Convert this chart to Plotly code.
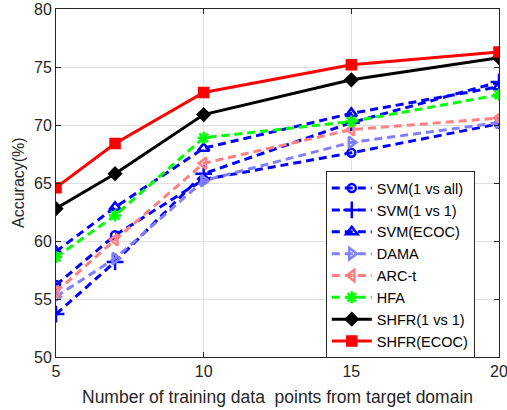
import plotly.graph_objects as go

x_vals = [5, 7, 10, 15, 20]
svm_1vsall = [56.2, 60.5, 65.3, 67.6, 70.1]
svm_1vs1 = [53.7, 58.2, 65.8, 70.2, 73.7]
svm_ecoc = [59.1, 62.9, 68.0, 71.0, 73.3]
dama = [55.2, 58.5, 65.2, 68.5, 70.2]
arct = [55.6, 60.1, 66.7, 69.6, 70.6]
hfa = [58.6, 62.2, 68.9, 70.3, 72.6]
shfr_1vs1 = [62.8, 65.8, 70.9, 73.9, 75.8]
shfr_ecoc = [64.6, 68.4, 72.8, 75.2, 76.3]

series = [
    ("SVM(1 vs all)", svm_1vsall, "#0000ff", "dash", "circle-open", 8),
    ("SVM(1 vs 1)", svm_1vs1, "#0000ff", "dash", "cross-thin-open", 12),
    ("SVM(ECOC)", svm_ecoc, "#0000ff", "dash", "triangle-up-open", 10),
    ("DAMA", dama, "#8080ff", "dash", "triangle-right-open", 10),
    ("ARC-t", arct, "#ff8080", "dash", "triangle-left-open", 10),
    ("HFA", hfa, "#00ff00", "dash", "asterisk-open", 10),
    ("SHFR(1 vs 1)", shfr_1vs1, "#000000", "solid", "diamond", 9),
    ("SHFR(ECOC)", shfr_ecoc, "#ff0000", "solid", "square", 9),
]

fig = go.Figure()
for name, ys, color, dash, sym, size in series:
    fig.add_trace(go.Scatter(
        x=x_vals, y=ys, name=name, mode="lines+markers",
        line=dict(color=color, width=3, dash="8px,5px" if dash == "dash" else "solid"),
        marker=dict(symbol=sym, size=size, color=color,
                    line=dict(color=color, width=2.5)),
    ))

fig.update_layout(
    width=507, height=410,
    margin=dict(l=56, r=8, t=9, b=53),
    paper_bgcolor="white", plot_bgcolor="white",
    font=dict(family="Liberation Sans, Arial, sans-serif", color="#262626", size=16),
    showlegend=True,
    legend=dict(x=0.609, y=0.534, xanchor="left", yanchor="top",
                bgcolor="white", bordercolor="#262626", borderwidth=1,
                font=dict(size=14.5, color="#000000"), tracegroupgap=0,
                itemwidth=40, entrywidth=100, entrywidthmode="pixels"),
    annotations=[
        dict(text="Number of training data  points from target domain",
             xref="paper", yref="paper", x=0.5, y=-0.115, xanchor="center", yanchor="middle",
             showarrow=False, font=dict(size=17.5, color="#262626")),
        dict(text="Accuracy(%)", textangle=-90,
             xref="paper", yref="paper", x=0, y=0.5, xanchor="center", yanchor="middle",
             xshift=-38, showarrow=False, font=dict(size=16, color="#262626")),
    ],
)
fig.update_xaxes(
    range=[5, 20], tickvals=[5, 10, 15, 20], ticks="inside", ticklen=5,
    tickcolor="#262626", showline=True, linecolor="#262626", linewidth=1,
    mirror="ticks", showgrid=True, gridcolor="#e0e0e0", zeroline=False,
    tickfont=dict(size=16), automargin=False, ticklabeloverflow="allow",
)
fig.update_yaxes(
    range=[50, 80], tickvals=[50, 55, 60, 65, 70, 75, 80], ticks="inside", ticklen=5,
    tickcolor="#262626", showline=True, linecolor="#262626", linewidth=1,
    mirror="ticks", showgrid=True, gridcolor="#e0e0e0", zeroline=False,
    tickfont=dict(size=16), automargin=False, ticklabeloverflow="allow",
)

fig.write_html("out.html", config={"displayModeBar": False},
               post_script="document.body.style.margin='0';document.body.style.overflow='hidden';")
